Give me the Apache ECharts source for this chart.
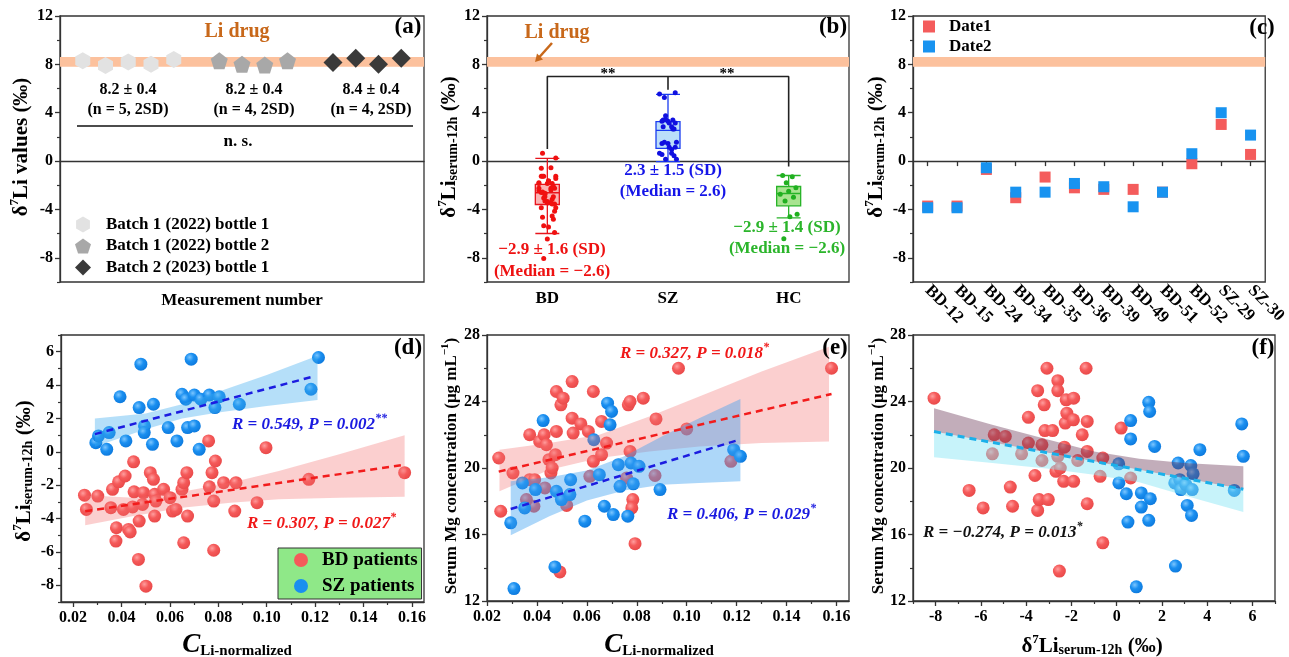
<!DOCTYPE html>
<html><head><meta charset="utf-8">
<script src="https://cdn.jsdelivr.net/npm/echarts@6/dist/echarts.min.js"></script>
<style>html,body{margin:0;padding:0;background:#fff}#c{width:1289px;height:657px}</style>
</head><body><div id="c"></div>
<script>
const FONT = '"Liberation Serif","Times New Roman",serif';

// ---------------- DATA ----------------
// (a) Li drug measurements
const aHexX = [1, 2, 3, 4, 5];
const aHexY = [8.3, 7.9, 8.2, 8.0, 8.4];
const aPentX = [7, 8, 9, 10];
const aPentY = [8.3, 8.0, 7.95, 8.3];
const aDiaX = [12, 13, 14, 15];
const aDiaY = [8.15, 8.5, 8.0, 8.5];
const liDrugBand = [7.8, 8.6];
const yTicksTop = [-8, -4, 0, 4, 8, 12];
const yMinorTop = [-10, -6, -2, 2, 6, 10];

// (b) boxplots  [min, Q1, median, Q3, max]
const bCats = ['BD', 'SZ', 'HC'];
const bBox = [
  [-5.99, -3.59, -2.62, -1.93, 0.22],
  [-0.05, 1.05, 2.54, 3.26, 5.52],
  [-4.69, -3.70, -2.68, -2.10, -1.19]
];
const bHcDots = [-1.2, -1.3, -1.8, -2.2, -2.5, -2.75, -3.0, -3.3, -4.4, -4.6, -6.43];
const bJitter = [-0.05, 0.03, -0.02, 0.06, 0.0, -0.07, 0.04, -0.03, 0.07, 0.01, -0.04, 0.05];
const bBracket = [7.0, 1.0, 5.9, -0.45]; // top, BD end, SZ end, HC end

// (c) repeated measurements
const cCats = ['BD-12', 'BD-15', 'BD-24', 'BD-34', 'BD-35', 'BD-36', 'BD-39', 'BD-49', 'BD-51', 'BD-52', 'SZ-29', 'SZ-30'];
const cDate1 = [-3.72, -3.72, -0.69, -3.03, -1.32, -2.21, -2.34, -2.34, -2.57, -0.22, 3.03, 0.55];
const cDate2 = [-3.86, -3.86, -0.55, -2.57, -2.57, -1.85, -2.12, -3.78, -2.57, 0.61, 4.0, 2.15];

// (d) C_Li-normalized vs d7Li
const dBdX = [0.0247,0.0255,0.0302,0.0363,0.0356,0.0388,0.0379,0.0377,0.0415,0.0408,0.0429,0.0436,0.045,0.0452,0.0446,0.0473,0.047,0.0491,0.0487,0.0501,0.0519,0.0532,0.0537,0.0542,0.0537,0.0574,0.0601,0.0611,0.0625,0.065,0.0657,0.067,0.0673,0.0657,0.076,0.0763,0.0774,0.0788,0.0781,0.0781,0.0822,0.0873,0.0868,0.096,0.0997,0.1174,0.157];
const dBdY = [-2.6,-3.45,-2.65,-2.25,-3.35,-1.8,-4.55,-5.35,-1.45,-3.45,-4.65,-4.8,-0.6,-2.4,-3.3,-4.15,-6.45,-2.45,-3.15,-8.05,-1.25,-1.65,-2.55,-2.95,-3.85,-2.25,-2.75,-3.55,-3.45,-2.25,-1.85,-1.25,-3.85,-5.45,0.65,-2.1,-1.25,-0.55,-2.95,-5.9,-1.85,-1.85,-3.55,-3.05,0.25,-1.65,-1.25];
const dSzX = [0.0294,0.0305,0.0339,0.0349,0.0394,0.0418,0.0473,0.048,0.0495,0.0494,0.0532,0.0528,0.0593,0.0629,0.065,0.0666,0.0673,0.0688,0.0701,0.0701,0.0721,0.0728,0.0763,0.0786,0.0804,0.0887,0.1183,0.1214];
const dSzY = [0.55,0.95,0.15,1.15,3.3,0.65,2.65,5.25,1.55,1.15,2.85,0.45,1.45,0.65,3.45,3.15,1.45,5.55,3.4,1.55,0.15,3.15,3.4,2.65,3.3,2.85,3.75,5.65];
const dBdLine = [[0.025, -3.56], [0.157, -0.77]];
const dSzLine = [[0.029, 1.06], [0.119, 4.5]];
const dBdBand = [[0.025,-4.4,-2.6],[0.045,-3.85,-2.75],[0.065,-3.35,-2.4],[0.085,-3.05,-1.85],[0.105,-2.85,-1.15],[0.13,-2.75,-0.15],[0.157,-2.7,1.0]];
const dSzBand = [[0.029,0.3,2.0],[0.05,1.35,2.3],[0.065,2.0,2.85],[0.08,2.35,3.6],[0.1,2.75,4.6],[0.121,3.1,5.75]];

// (e) C_Li-normalized vs serum Mg
const eBdX = [0.0247,0.0255,0.0304,0.0371,0.0371,0.0391,0.0388,0.0411,0.0429,0.0432,0.0438,0.0448,0.0456,0.0461,0.0478,0.0478,0.0474,0.0496,0.0505,0.0492,0.0519,0.0541,0.0541,0.0545,0.0576,0.0606,0.0612,0.0626,0.0626,0.0659,0.0659,0.0679,0.0766,0.0773,0.0773,0.0784,0.078,0.0759,0.0793,0.0826,0.0877,0.0873,0.0967,0.1,0.1177,0.158,0.0358];
const eBdY = [20.6,17.4,19.7,22.0,19.3,19.3,17.7,21.6,22.0,18.8,21.4,20.5,19.7,20.0,24.6,22.2,20.8,23.8,24.2,13.75,17.75,25.2,23.0,22.1,22.65,22.2,19.5,24.6,20.4,22.8,20.8,21.5,23.8,24.0,21.0,18.1,17.6,19.4,15.45,24.2,22.95,19.55,26.0,22.35,20.4,26.0,18.1];
const eSzX = [0.0295,0.0308,0.0342,0.0351,0.0394,0.0425,0.0472,0.0478,0.0498,0.0535,0.0532,0.0592,0.0628,0.065,0.067,0.0683,0.0699,0.0693,0.0706,0.0726,0.0733,0.0764,0.0777,0.0786,0.0809,0.0893,0.1188,0.1215];
const eSzY = [16.7,12.75,19.1,17.6,18.7,22.85,14.05,18.6,18.1,19.3,18.4,16.8,21.7,19.6,17.7,23.9,23.4,22.6,17.2,20.2,18.9,17.1,20.3,19.05,20.1,18.7,21.1,20.7];
const eBdLine = [[0.0247, 19.78], [0.158, 24.45]];
const eSzLine = [[0.0295, 17.53], [0.1215, 21.72]];
const eBdBand = [[0.025,18.6,21.1],[0.045,19.9,21.5],[0.065,20.6,22.0],[0.085,21.0,23.1],[0.105,21.3,24.3],[0.13,21.5,25.8],[0.157,21.6,27.3]];
const eSzBand = [[0.0295,15.95,19.2],[0.045,17.1,19.45],[0.06,18.05,19.85],[0.075,18.65,20.7],[0.09,19.0,21.9],[0.105,19.1,23.0],[0.1215,19.2,24.15]];

// (f) d7Li vs serum Mg
const fBdX = [-8.07,-6.52,-5.9,-5.49,-5.41,-4.92,-4.7,-4.6,-4.2,-3.9,-3.9,-3.61,-3.49,-3.49,-3.42,-3.3,-3.3,-3.2,-3.17,-3.08,-3.02,-2.83,-2.68,-2.6,-2.6,-2.6,-2.53,-2.49,-2.34,-2.31,-2.27,-2.23,-2.2,-1.9,-1.91,-1.9,-1.72,-1.52,-1.35,-1.3,-1.3,-1.3,-0.73,-0.61,-0.61,0.2,0.62];
const fBdY = [24.2,18.65,17.6,20.85,22.0,21.9,18.85,17.7,20.85,23.05,21.5,19.55,24.65,17.45,18.1,20.45,21.4,23.8,22.25,26.0,18.1,22.25,19.8,25.25,24.65,20.7,13.8,20.0,19.2,21.25,22.7,24.1,23.3,24.2,22.9,19.2,20.45,22.0,26.0,22.8,21.0,17.85,19.5,20.6,15.5,22.4,19.4];
const fSzX = [0.09,0.1,0.43,0.5,0.62,0.62,0.87,1.09,1.09,1.42,1.46,1.42,1.49,1.68,2.57,2.6,2.72,2.79,2.84,3.06,3.12,3.28,3.34,3.31,3.38,3.68,5.2,5.53,5.6];
const fSzY = [20.25,19.1,18.45,16.75,22.85,21.75,12.85,18.5,17.65,23.95,23.4,16.85,18.15,21.3,19.1,14.1,20.3,19.3,18.7,19.0,17.75,20.15,18.7,17.15,19.65,21.1,18.65,22.65,20.7];
const fLine = [[-8.07, 22.19], [5.6, 18.72]];
const fBand = [[-8.07,20.65,23.6],[-5.5,20.3,22.6],[-3,19.95,21.7],[-1,19.6,21.0],[1,19.15,20.55],[3,18.35,20.3],[5.6,17.35,20.1]];

// tick values
const dXTicks = [0.02,0.04,0.06,0.08,0.10,0.12,0.14,0.16];
const dXMinor = [0.03,0.05,0.07,0.09,0.11,0.13,0.15];
const dYTicks = [-8,-6,-4,-2,0,2,4,6];
const dYMinor = [-9,-7,-5,-3,-1,1,3,5,7];
const mgTicks = [12,16,20,24,28];
const mgMinor = [14,18,22,26];
const fXTicks = [-8,-6,-4,-2,0,2,4,6];
const fXMinor = [-9,-7,-5,-3,-1,1,3,5,7];

// ---------------- STYLE ----------------
const AXC = '#333';
const sphere = (c0, c1, c2) => ({type:'radial', x:0.38, y:0.35, r:0.7,
  colorStops:[{offset:0,color:c0},{offset:0.45,color:c1},{offset:1,color:c2}]});
const RED_S = sphere('#ff9e9e', '#f55a5a', '#e84848');
const BLUE_S = sphere('#7cc6ff', '#1a8ff0', '#0c78dc');
const lbl = {color:'#000', fontFamily:FONT, fontWeight:'bold', fontSize:16};
const HEX = 'path://M50,0 L93.3,25 L93.3,75 L50,100 L6.7,75 L6.7,25 Z';
const PENT = 'path://M50,0 L97.6,34.5 L79.4,90.5 L20.6,90.5 L2.4,34.5 Z';

function major(dim, g, min, max, ticks, extra) {
  return Object.assign({
    type:'value', gridIndex:g, min:min, max:max, position: dim === 'x' ? 'bottom' : 'left',
    axisLine:{show:true, onZero:false, lineStyle:{color:AXC, width:1.3}},
    axisTick:{show:true, length:5, customValues:ticks, lineStyle:{color:AXC, width:1.3}},
    axisLabel:Object.assign({customValues:ticks, margin:7}, lbl),
    splitLine:{show:false}
  }, extra || {});
}
function minor(dim, g, min, max, ticks) {
  return {
    type:'value', gridIndex:g, min:min, max:max, position: dim === 'x' ? 'bottom' : 'left',
    axisLine:{show:false, onZero:false},
    axisTick:{show:true, length:3, customValues:ticks, lineStyle:{color:AXC, width:1.2}},
    axisLabel:{show:false}, splitLine:{show:false}
  };
}
const fmt2 = v => v.toFixed(2);

const xAxis = [
  {type:'value', gridIndex:0, min:0, max:16, axisLine:{show:true, lineStyle:{color:AXC, width:1.3}}, axisTick:{show:false}, axisLabel:{show:false}, splitLine:{show:false}}, //0
  {type:'category', gridIndex:1, data:bCats, axisLine:{show:true, lineStyle:{color:AXC, width:1.3}}, axisTick:{show:false}, axisLabel:Object.assign({}, lbl, {fontSize:17, margin:8})}, //1
  {type:'value', gridIndex:1, min:-0.5, max:2.5, show:false}, //2
  {type:'category', gridIndex:2, data:cCats, axisLine:{show:true, lineStyle:{color:AXC, width:1.3}},
    axisTick:{show:true, alignWithLabel:true, length:5, lineStyle:{color:AXC, width:1.3}},
    axisLabel:Object.assign({}, lbl, {rotate:-45, interval:0, fontSize:17, margin:6})}, //3
  major('x', 3, 0.015, 0.165, dXTicks, {axisLabel:Object.assign({customValues:dXTicks, margin:8, formatter:fmt2}, lbl)}), //4
  minor('x', 3, 0.015, 0.165, dXMinor), //5
  major('x', 4, 0.02, 0.165, dXTicks, {axisLabel:Object.assign({customValues:dXTicks, margin:8, formatter:fmt2}, lbl)}), //6
  minor('x', 4, 0.02, 0.165, dXMinor), //7
  major('x', 5, -9, 7, fXTicks, {axisLabel:Object.assign({customValues:fXTicks, margin:8}, lbl)}), //8
  minor('x', 5, -9, 7, fXMinor) //9
];
const yAxis = [
  major('y', 0, -10, 12, yTicksTop), minor('y', 0, -10, 12, yMinorTop), //0,1
  major('y', 1, -10, 12, yTicksTop), minor('y', 1, -10, 12, yMinorTop), //2,3
  major('y', 2, -10, 12, yTicksTop), minor('y', 2, -10, 12, yMinorTop), //4,5
  major('y', 3, -9, 7, dYTicks), minor('y', 3, -9, 7, dYMinor), //6,7
  major('y', 4, 12, 28, mgTicks), minor('y', 4, 12, 28, mgMinor), //8,9
  major('y', 5, 12, 28, mgTicks), minor('y', 5, 12, 28, mgMinor) //10,11
];

const gridBase = {show:true, borderColor:AXC, borderWidth:1.3, containLabel:false};
const grid = [
  Object.assign({left:60, top:16, width:364, height:266}, gridBase),
  Object.assign({left:487, top:16, width:362, height:266}, gridBase),
  Object.assign({left:913, top:16, width:362, height:266}, gridBase),
  Object.assign({left:61, top:335, width:363, height:267}, gridBase),
  Object.assign({left:487, top:335, width:362, height:266}, gridBase),
  Object.assign({left:913, top:335, width:362, height:266}, gridBase)
];

// helpers for series
const zip = (xs, ys) => xs.map((x, i) => [x, ys[i]]);
function bandRect(xi, yi, lo, hi, color) {
  return {type:'custom', xAxisIndex:xi, yAxisIndex:yi, z:1, silent:true, data:[[0, lo]],
    renderItem:(p, api) => {
      const cs = p.coordSys;
      const y1 = api.coord([api.value(0), hi])[1];
      const y2 = api.coord([api.value(0), lo])[1];
      return {type:'rect', shape:{x:cs.x, y:y1, width:cs.width, height:y2 - y1}, style:{fill:color}};
    }};
}
function poly(xi, yi, top, bottom, color, z) {
  return {type:'custom', xAxisIndex:xi, yAxisIndex:yi, z:z, silent:true, data:[top[0]],
    renderItem:(p, api) => ({type:'polygon',
      shape:{points: top.map(q => api.coord(q)).concat(bottom.slice().reverse().map(q => api.coord(q)))},
      style:{fill:color}})};
}
const bandTop = b => b.map(r => [r[0], r[2]]);
const bandBot = b => b.map(r => [r[0], r[1]]);
function dashLine(xi, yi, data, color, w) {
  return {type:'line', xAxisIndex:xi, yAxisIndex:yi, z:6, data:data, symbol:'none', silent:true,
    lineStyle:{color:color, width:w || 2.5, type:[7, 5]}};
}
function balls(name, xi, yi, xs, ys, col, z) {
  return {type:'scatter', name:name, xAxisIndex:xi, yAxisIndex:yi, z:z, data:zip(xs, ys), symbolSize:13,
    itemStyle:{color:col, opacity:1}};
}

const LI_BAND = '#fcc19d';
const boxFill = ['rgba(245,105,105,0.5)', 'rgba(120,190,245,0.5)', 'rgba(110,210,70,0.6)'];
const boxStroke = ['#e8141c', '#1a3cf0', '#28b428'];
const dotCol = ['#f01010', '#1010e0', '#20b020'];

const jit = (vals, idx) => vals.map((v, i) => [idx + bJitter[i % bJitter.length], v]);

const series = [
  // (a)
  bandRect(0, 0, liDrugBand[0], liDrugBand[1], LI_BAND),
  {type:'scatter', name:'Batch 1 (2022) bottle 1', xAxisIndex:0, yAxisIndex:0, z:3, symbol:HEX, symbolSize:[15,17], data:zip(aHexX, aHexY), itemStyle:{color:'#e2e2e2', opacity:1}},
  {type:'scatter', name:'Batch 1 (2022) bottle 2', xAxisIndex:0, yAxisIndex:0, z:3, symbol:PENT, symbolSize:[17,17], data:zip(aPentX, aPentY), itemStyle:{color:'#a8a8a8', opacity:1}},
  {type:'scatter', name:'Batch 2 (2023) bottle 1', xAxisIndex:0, yAxisIndex:0, z:3, symbol:'diamond', symbolSize:[19,19], data:zip(aDiaX, aDiaY), itemStyle:{color:'#3a3a3a', opacity:1}},
  // (b)
  bandRect(1, 2, liDrugBand[0], liDrugBand[1], LI_BAND),
  {type:'boxplot', xAxisIndex:1, yAxisIndex:2, z:2, boxWidth:[24,24], silent:true,
    data:bBox.map((v, i) => ({value:v, itemStyle:{color:boxFill[i], borderColor:boxStroke[i], borderWidth:1.3}}))},
  {type:'scatter', xAxisIndex:2, yAxisIndex:2, z:4, symbolSize:5, data:jit(dBdY, 0), itemStyle:{color:dotCol[0], opacity:1}},
  {type:'scatter', xAxisIndex:2, yAxisIndex:2, z:4, symbolSize:5, data:jit(dSzY, 1), itemStyle:{color:dotCol[1], opacity:1}},
  {type:'scatter', xAxisIndex:2, yAxisIndex:2, z:4, symbolSize:5, data:jit(bHcDots, 2), itemStyle:{color:dotCol[2], opacity:1}},
  {type:'line', xAxisIndex:2, yAxisIndex:2, z:3, symbol:'none', silent:true, lineStyle:{color:'#222', width:1.6},
    data:[[0, bBracket[1]], [0, bBracket[0]], [2, bBracket[0]], [2, bBracket[3]]]},
  {type:'line', xAxisIndex:2, yAxisIndex:2, z:3, symbol:'none', silent:true, lineStyle:{color:'#222', width:1.6},
    data:[[1, bBracket[0]], [1, bBracket[2]]]},
  // (c)
  bandRect(3, 4, liDrugBand[0], liDrugBand[1], LI_BAND),
  {type:'scatter', name:'Date1', xAxisIndex:3, yAxisIndex:4, z:3, symbol:'rect', symbolSize:11, data:cDate1, itemStyle:{color:'#f45c5c', opacity:1}},
  {type:'scatter', name:'Date2', xAxisIndex:3, yAxisIndex:4, z:4, symbol:'rect', symbolSize:11, data:cDate2, itemStyle:{color:'#1893f0', opacity:1}},
  // (d)
  balls('BD patients', 4, 6, dBdX, dBdY, RED_S, 2),
  balls('SZ patients', 4, 6, dSzX, dSzY, BLUE_S, 2),
  poly(4, 6, bandTop(dBdBand), bandBot(dBdBand), 'rgba(242,110,110,0.33)', 3),
  poly(4, 6, bandTop(dSzBand), bandBot(dSzBand), 'rgba(60,170,240,0.38)', 4),
  dashLine(4, 6, dBdLine, '#f21c1c'),
  dashLine(4, 6, dSzLine, '#1c1ce0'),
  // (e)
  balls('BD patients', 6, 8, eBdX, eBdY, RED_S, 2),
  balls('SZ patients', 6, 8, eSzX, eSzY, BLUE_S, 2),
  poly(6, 8, bandTop(eBdBand), bandBot(eBdBand), 'rgba(242,110,110,0.33)', 3),
  poly(6, 8, bandTop(eSzBand), bandBot(eSzBand), 'rgba(60,160,240,0.42)', 4),
  dashLine(6, 8, eBdLine, '#f21c1c'),
  dashLine(6, 8, eSzLine, '#1c1ce0'),
  // (f)
  balls('BD patients', 8, 10, fBdX, fBdY, RED_S, 2),
  balls('SZ patients', 8, 10, fSzX, fSzY, BLUE_S, 2),
  poly(8, 10, bandTop(fBand), fLine, 'rgba(110,60,90,0.42)', 3),
  poly(8, 10, fLine, bandBot(fBand), 'rgba(130,228,245,0.45)', 3),
  dashLine(8, 10, fLine, '#1ab0ea', 3)
];

// ---------------- TEXT ----------------
const R = (size, extra) => Object.assign({fontFamily:FONT, fontWeight:'bold', fontSize:size, fill:'#000'}, extra || {});
function T(x, y, text, size, color, extra) {
  return Object.assign({type:'text', x:x, y:y, z:100, silent:true,
    style:{text:text, fontFamily:FONT, fontWeight:'bold', fontSize:size, fill:color || '#000',
      align:'center', verticalAlign:'middle', textAlign:'center', textVerticalAlign:'middle'}}, extra || {});
}
function RT(x, y, text, rich, opts) {
  opts = opts || {};
  return {type:'text', x:x, y:y, z:100, silent:true, rotation:opts.rot || 0,
    style:{text:text, rich:rich, fontFamily:FONT, fontWeight:'bold', fontSize:16,
      align:opts.align || 'center', verticalAlign:'middle', textAlign:opts.align || 'center', textVerticalAlign:'middle'}};
}
const deltaRich = {
  d:R(21, {lineHeight:24, verticalAlign:'bottom'}),
  p:R(13, {lineHeight:14, verticalAlign:'top'}),
  b:R(14, {lineHeight:16, verticalAlign:'bottom'})
};
const yNameSerum = '{d|δ}{p|7}{d|Li}{b|serum-12h}{d| (‰)}';
const mgRich = {m:R(17, {lineHeight:20, verticalAlign:'bottom'}), s:R(11, {lineHeight:12, verticalAlign:'top'})};
const mgName = '{m|Serum Mg concentration (μg mL}{s|−1}{m|)}';
const cRich = {c:R(27, {fontStyle:'italic', lineHeight:28, verticalAlign:'bottom'}), s:R(15, {lineHeight:18, verticalAlign:'bottom'})};
const cName = '{c|C}{s|Li-normalized}';
function stat(color) {
  return {m:R(17, {fontStyle:'italic', fill:color, lineHeight:20, verticalAlign:'bottom'}),
          s:R(12, {fontStyle:'italic', fill:color, lineHeight:12, verticalAlign:'top'})};
}
const ROT = Math.PI / 2;
const LIC = '#c8681a';

const graphic = [
  // (a)
  T(237, 32, 'Li drug', 20, LIC),
  T(408, 27, '(a)', 23),
  T(128, 90, '8.2 ± 0.4', 16), T(128, 110, '(n = 5, 2SD)', 16),
  T(254, 90, '8.2 ± 0.4', 16), T(254, 110, '(n = 4, 2SD)', 16),
  T(371, 90, '8.4 ± 0.4', 16), T(371, 110, '(n = 4, 2SD)', 16),
  {type:'line', z:100, silent:true, shape:{x1:77, y1:126, x2:413, y2:126}, style:{stroke:'#111', lineWidth:1.5}},
  T(238, 142, 'n. s.', 17),
  RT(20, 147, '{d|δ}{p|7}{d|Li values (‰)}', deltaRich, {rot:ROT}),
  T(242, 301, 'Measurement number', 17),
  // (b)
  T(557, 33, 'Li drug', 20, LIC),
  {type:'line', z:100, silent:true, shape:{x1:552, y1:43, x2:539, y2:57.5}, style:{stroke:LIC, lineWidth:2.5}},
  {type:'polygon', z:100, silent:true, shape:{points:[[535,62],[543,59.5],[537,53.5]]}, style:{fill:LIC}},
  T(833, 27, '(b)', 23),
  T(608, 74, '**', 15), T(727, 74, '**', 15),
  T(552, 250, '−2.9 ± 1.6 (SD)', 17, '#ee1111'), T(552, 272, '(Median = −2.6)', 17, '#ee1111'),
  T(673, 171, '2.3 ± 1.5 (SD)', 17, '#1515e8'), T(673, 192, '(Median = 2.6)', 17, '#1515e8'),
  T(787, 228, '−2.9 ± 1.4 (SD)', 17, '#2bb52b'), T(787, 249, '(Median = −2.6)', 17, '#2bb52b'),
  RT(448, 147, yNameSerum, deltaRich, {rot:ROT}),
  // (c)
  T(1262, 28, '(c)', 23),
  RT(875, 147, yNameSerum, deltaRich, {rot:ROT}),
  // (d)
  T(408, 348, '(d)', 23),
  RT(232, 423, '{m|R = 0.549, P = 0.002}{s|**}', stat('#1a1ae0'), {align:'left'}),
  RT(247, 522, '{m|R = 0.307, P = 0.027}{s|*}', stat('#f01818'), {align:'left'}),
  RT(23, 471, yNameSerum, deltaRich, {rot:ROT}),
  RT(237, 645, cName, cRich),
  // (e)
  T(835, 348, '(e)', 23),
  RT(620, 352, '{m|R = 0.327, P = 0.018}{s|*}', stat('#f01818'), {align:'left'}),
  RT(667, 513, '{m|R = 0.406, P = 0.029}{s|*}', stat('#1a1ae0'), {align:'left'}),
  RT(450, 466, mgName, mgRich, {rot:ROT}),
  RT(659, 645, cName, cRich),
  // (f)
  T(1263, 348, '(f)', 23),
  RT(923, 531, '{m|R = −0.274, P = 0.013}{s|*}', stat('#111'), {align:'left'}),
  RT(877, 466, mgName, mgRich, {rot:ROT}),
  RT(1092, 645, yNameSerum, deltaRich)
];

const legTxt = (lh, pad) => ({fontFamily:FONT, fontWeight:'bold', fontSize:17, color:'#000', lineHeight:lh, padding:[0,0,0,pad]});
const legend = [
  {data:['Batch 1 (2022) bottle 1','Batch 1 (2022) bottle 2','Batch 2 (2023) bottle 1'], orient:'vertical',
    left:75, top:216, padding:0, itemWidth:16, itemHeight:16, itemGap:4.5, selectedMode:false, textStyle:legTxt(17, 10)},
  {data:['Date1','Date2'], orient:'vertical', left:923, top:18, padding:0, itemWidth:12, itemHeight:12, itemGap:3,
    selectedMode:false, textStyle:legTxt(17, 9)},
  {data:[{name:'BD patients', itemStyle:{color:'#f45a5a', opacity:1}}, {name:'SZ patients', itemStyle:{color:'#1a8ff0', opacity:1}}],
    orient:'vertical', left:278, top:548, padding:[2,4,3,16], itemWidth:14, itemHeight:14,
    itemGap:6, selectedMode:false, backgroundColor:'#8fe888', borderColor:'#333', borderWidth:1,
    textStyle:Object.assign(legTxt(20, 9), {fontSize:19})}
];

const chart = echarts.init(document.getElementById('c'), null, {renderer:'canvas'});
chart.setOption({
  animation:false,
  backgroundColor:'#fff',
  textStyle:{fontFamily:FONT},
  grid:grid, xAxis:xAxis, yAxis:yAxis, series:series, legend:legend, graphic:graphic
});
</script></body></html>
